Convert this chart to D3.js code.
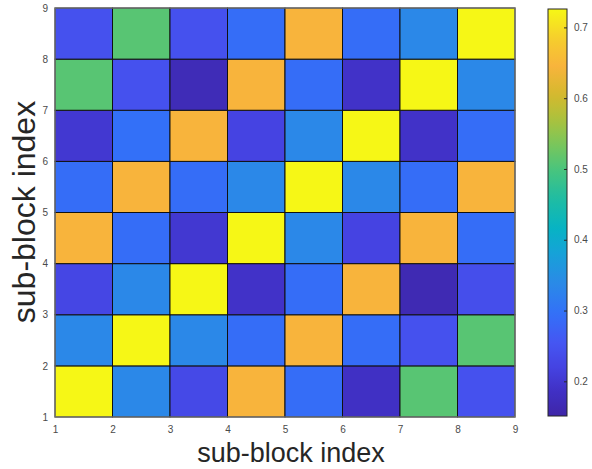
<!DOCTYPE html>
<html>
<head>
<meta charset="utf-8">
<script src="https://cdn.jsdelivr.net/npm/d3@7"></script>
<style>
body{margin:0;background:#fff;}
svg{display:block;font-family:"Liberation Sans",Arial,Helvetica,sans-serif;}
</style>
</head>
<body>
<svg id="chart" width="592" height="469"></svg>
<script>
// rows listed from bottom (y 1-2) to top (y 8-9); columns x 1-2 ... 8-9
const xTicks = [1,2,3,4,5,6,7,8,9];
const yTicks = [1,2,3,4,5,6,7,8,9];
const cbTicks = [0.2,0.3,0.4,0.5,0.6,0.7];
const row1 = [0.725,0.335,0.230,0.645,0.290,0.185,0.510,0.245];
const row2 = [0.335,0.725,0.335,0.290,0.645,0.290,0.245,0.510];
const row3 = [0.225,0.335,0.725,0.190,0.290,0.645,0.165,0.240];
const row4 = [0.645,0.290,0.200,0.725,0.335,0.220,0.645,0.290];
const row5 = [0.290,0.645,0.290,0.335,0.725,0.335,0.290,0.645];
const row6 = [0.200,0.295,0.645,0.220,0.335,0.725,0.190,0.290];
const row7 = [0.510,0.245,0.170,0.645,0.290,0.190,0.725,0.335];
const row8 = [0.245,0.510,0.245,0.290,0.645,0.290,0.335,0.725];
const rows = [row1,row2,row3,row4,row5,row6,row7,row8];
const cMin = 0.151, cMax = 0.726;

// parula-like colormap anchors
const parulaStops = [
  [0.00,"#3e26a8"],[0.06,"#4030c4"],[0.12,"#4543e2"],[0.18,"#4556f2"],
  [0.25,"#3370f8"],[0.33,"#2a8be6"],[0.40,"#16a2d8"],[0.46,"#07b3c4"],
  [0.53,"#1dbca4"],[0.60,"#45c480"],[0.67,"#7cc65a"],[0.73,"#acc13c"],
  [0.79,"#d5b92e"],[0.86,"#f8b43c"],[0.93,"#f6cf2c"],[1.00,"#f6f815"]
];
const colorScale = d3.scaleLinear()
  .domain(parulaStops.map(s => cMin + s[0]*(cMax-cMin)))
  .range(parulaStops.map(s => s[1]))
  .interpolate(d3.interpolateRgb)
  .clamp(true);

const svg = d3.select("#chart");
const L = 55, R = 515, T = 8, B = 417;
const x = d3.scaleLinear().domain([1,9]).range([L,R]);
const y = d3.scaleLinear().domain([1,9]).range([B,T]);

const cells = [];
rows.forEach((r,i) => r.forEach((v,j) => cells.push({i, j, v})));

svg.append("g").selectAll("rect").data(cells).join("rect")
  .attr("x", d => x(d.j+1))
  .attr("y", d => y(d.i+2))
  .attr("width", d => x(d.j+2) - x(d.j+1))
  .attr("height", d => y(d.i+1) - y(d.i+2))
  .attr("fill", d => colorScale(d.v))
  .attr("stroke", "#111")
  .attr("stroke-width", 1);

// frame
svg.append("rect").attr("x",L).attr("y",T).attr("width",R-L).attr("height",B-T)
  .attr("fill","none").attr("stroke","#7a7a7a").attr("stroke-width",1.2);

const tickColor = "#4a4a4a";
const xAxis = svg.append("g").attr("transform",`translate(0,${B})`)
  .call(d3.axisBottom(x).tickValues(xTicks).tickSize(0).tickPadding(9).tickFormat(d3.format("d")));
const yAxis = svg.append("g").attr("transform",`translate(${L},0)`)
  .call(d3.axisLeft(y).tickValues(yTicks).tickSize(0).tickPadding(7).tickFormat(d3.format("d")));
[xAxis,yAxis].forEach(a => {
  a.select(".domain").remove();
  a.selectAll("text").attr("fill",tickColor).style("font-size","10px");
});

svg.append("text").attr("x",291).attr("y",462).attr("text-anchor","middle")
  .attr("fill","#262626").style("font-size","27px").text("sub-block index");
svg.append("text").attr("transform",`translate(35,212) rotate(-90)`)
  .attr("text-anchor","middle").attr("fill","#262626").style("font-size","32px").text("sub-block index");

// colorbar
const cbL = 548, cbW = 19, cbT = 9, cbB = 416;
const cy = d3.scaleLinear().domain([cMin,cMax]).range([cbB,cbT]);
const defs = svg.append("defs");
const grad = defs.append("linearGradient").attr("id","cbgrad")
  .attr("x1","0").attr("y1","1").attr("x2","0").attr("y2","0");
d3.range(0,1.0001,0.02).forEach(t => {
  grad.append("stop").attr("offset",t).attr("stop-color",colorScale(cMin+t*(cMax-cMin)));
});
svg.append("rect").attr("x",cbL).attr("y",cbT).attr("width",cbW).attr("height",cbB-cbT)
  .attr("fill","url(#cbgrad)").attr("stroke","#262626").attr("stroke-width",1);
const cbAxis = svg.append("g").attr("transform",`translate(${cbL+cbW},0)`)
  .call(d3.axisRight(cy).tickValues(cbTicks).tickSize(-3).tickPadding(7).tickFormat(d3.format(".1f")));
cbAxis.select(".domain").remove();
cbAxis.selectAll("line").attr("stroke","#262626");
cbAxis.selectAll("text").attr("fill",tickColor).style("font-size","10px");
</script>
</body>
</html>
